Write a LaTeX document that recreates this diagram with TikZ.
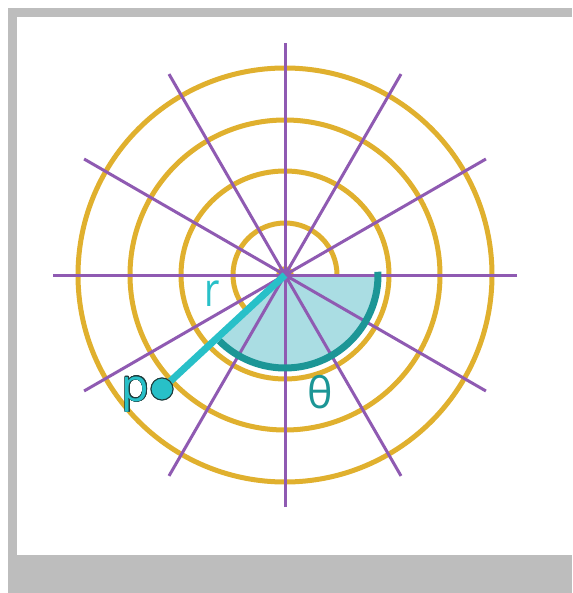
\documentclass[tikz,border=0pt]{standalone}
\usepackage{fontspec}
\setmainfont{Open Sans}
\usepackage{graphicx}
\usepackage{contour}
\usetikzlibrary{calc}
\definecolor{framegray}{RGB}{189,189,189}
\definecolor{gold}{RGB}{224,176,46}
\definecolor{lilac}{RGB}{143,90,178}
\definecolor{cyanr}{RGB}{40,192,200}
\definecolor{tealdark}{RGB}{28,150,150}
\definecolor{tealfill}{RGB}{170,221,227}
\definecolor{outl}{RGB}{30,60,60}
\tikzset{
  ring/.style={draw=gold,line width=5pt},
  spoke/.style={draw=lilac,line width=3pt},
  rline/.style={draw=cyanr,line width=7pt},
  arcline/.style={draw=tealdark,line width=7pt},
  pdot/.style={circle,fill=cyanr,draw=outl,line width=1pt,minimum size=22pt,inner sep=0pt},
  lbl/.style={inner sep=0pt}
}
\begin{document}
\begin{tikzpicture}[x=1pt,y=-1pt]
\useasboundingbox (0,0) rectangle (572,593);
\fill[framegray] (8,8) rectangle (572,593);
\fill[white] (17,17) rectangle (572,555);
\coordinate (c) at (285,275);
% rings
\foreach \rr in {52,104,155,207} \draw[ring] (c) circle[radius=\rr];
\draw[gold,line width=2.5pt] (c) circle[radius=7.5];
% sector
\fill[tealfill] (c) -- ++(0:93) arc[start angle=0,end angle=135,radius=93] -- cycle;
% spokes
\foreach \a in {0,30,60,90,120,150}
  \draw[spoke] ($(c)+(\a:232)$) -- ($(c)+(\a+180:232)$);
\fill[lilac] (c) circle[radius=6.5];
% arc
\draw[arcline] ($(c)+(-2:93)$) arc[start angle=-2,end angle=135,radius=93];
% P point and r line
\node[pdot] (p) at (162,389) {};
\draw[rline] (c) -- (p);
\node[pdot] at (p) {};
% labels
\node[lbl,text=cyanr,font=\fontsize{47}{47}\selectfont] (rl) at (212,294) {\scalebox{0.8}[1]{r}};
\contourlength{0.7pt}
\node[lbl,font=\fontsize{45}{45}\selectfont] (pl) at (135.5,394.5) {\contour{outl}{\textcolor{cyanr}{p}}};
\node[lbl,text=tealdark,font=\fontsize{43}{43}\selectfont] (th) at (320,392.5) {θ};
\end{tikzpicture}
\end{document}
